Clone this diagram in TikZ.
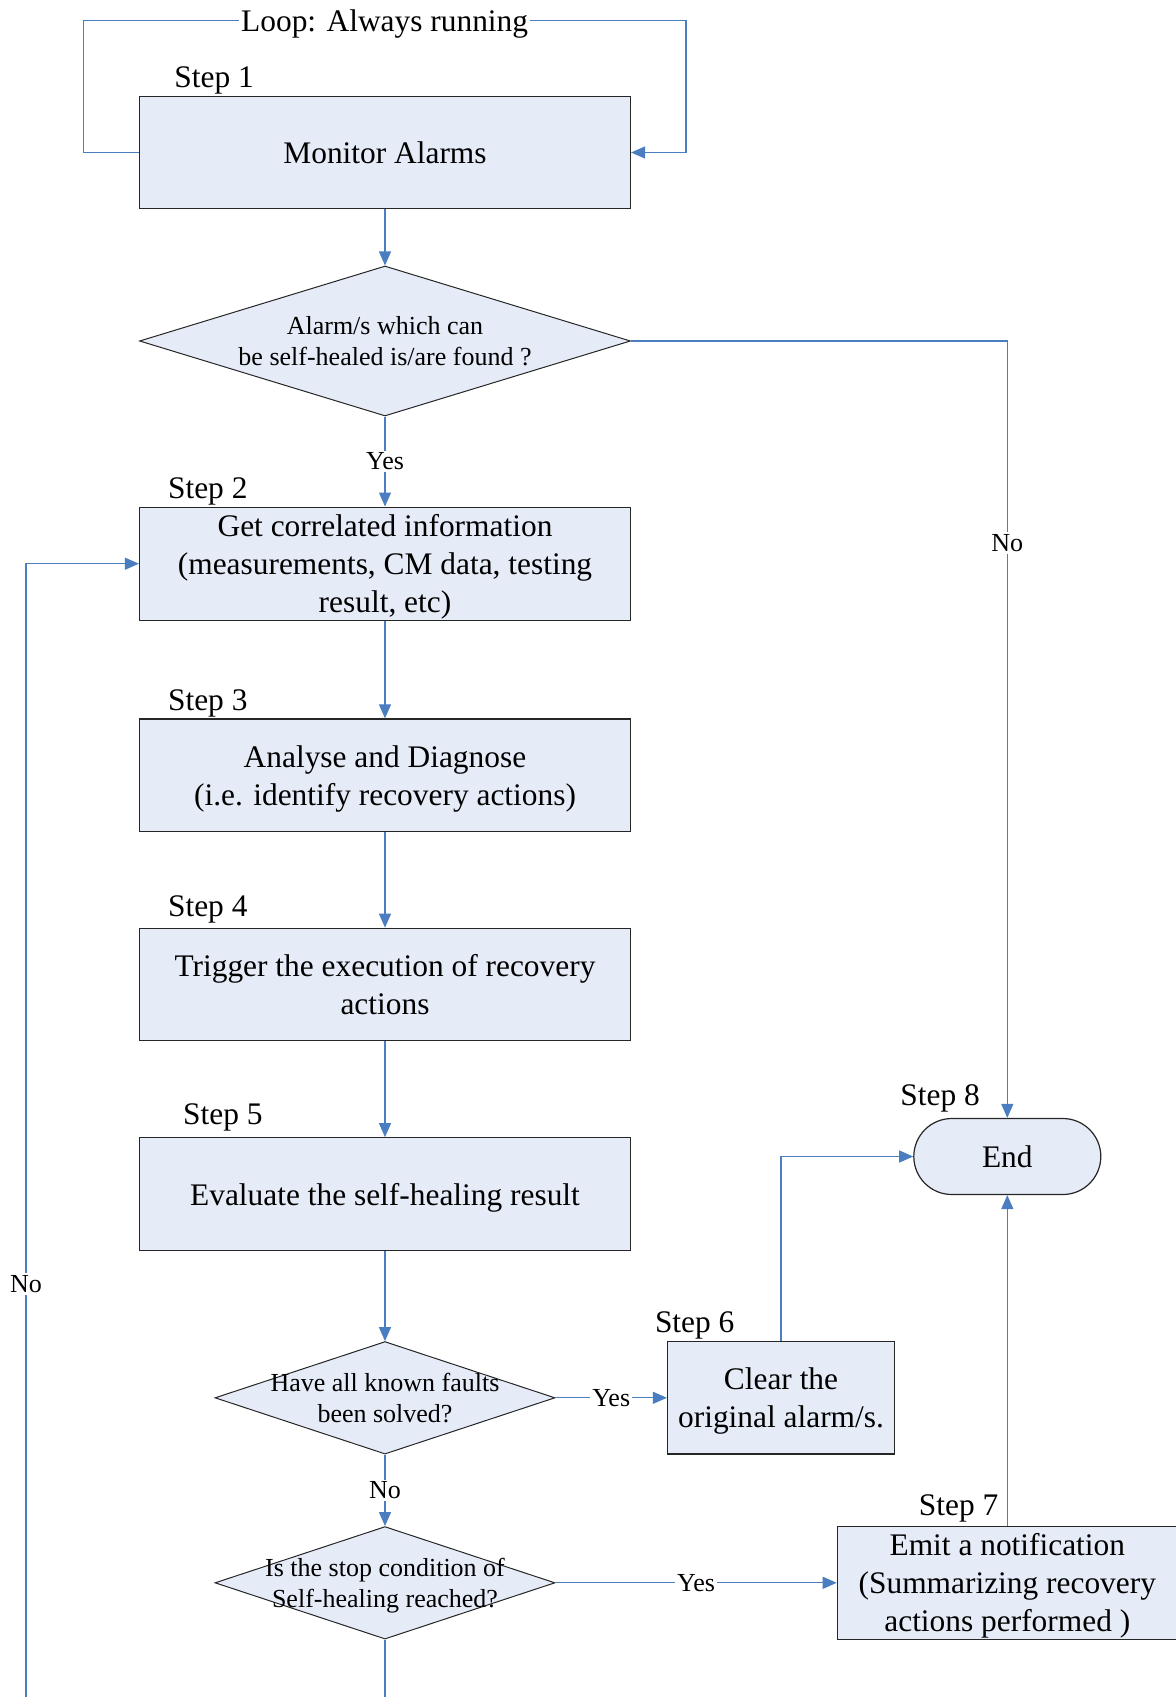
\documentclass[tikz,border=0pt]{standalone}
\usepackage{fontspec}
\setmainfont{Liberation Serif}
\usetikzlibrary{arrows.meta,shapes.geometric}
\definecolor{boxfill}{RGB}{230,236,247}
\definecolor{flowblue}{RGB}{74,126,193}
\newcommand\bigtxt{\fontsize{15.7}{19}\selectfont}
\newcommand\smalltxt{\fontsize{13}{15.7}\selectfont}
\tikzset{
  stepbox/.style={draw=black!85, line width=0.6pt, fill=boxfill, inner sep=0pt,
    align=center, font=\bigtxt, text height=14.8pt, text depth=3.8pt,
    minimum width=245.5pt, minimum height=56.25pt},
  twolines/.style={text height=33.8pt},
  threelines/.style={text height=52.8pt},
  decision/.style={draw=black!85, line width=0.5pt, fill=boxfill, shape=diamond,
    inner sep=0pt, minimum width=170pt, minimum height=56.25pt},
  endbox/.style={draw=black!85, line width=0.6pt, fill=boxfill, rounded corners=19pt,
    minimum width=93.5pt, minimum height=38pt, font=\bigtxt, text height=14.8pt, text depth=3.8pt},
  dtext/.style={align=center, font=\smalltxt, text height=28pt, text depth=3.1pt},
  steplbl/.style={anchor=base west, font=\bigtxt, inner sep=0pt},
  lbl/.style={fill=white, inner sep=1pt, font=\smalltxt},
  flow/.style={draw=flowblue, line width=0.6pt},
  arr/.style={flow, -{Triangle[length=7pt,width=6pt]}},
}
\begin{document}
\begin{tikzpicture}[x=0.5pt,y=-0.5pt]
      \useasboundingbox (0,0) rectangle (1176,1697);
      \clip (0,0) rectangle (1176,1697);
      % boxes and decisions
      \node[stepbox] (s1) at (385,152.5) {Monitor Alarms};
      \node[decision, minimum width=245.5pt, minimum height=75pt] (q1) at (385,341) {};
      \node[dtext] (q1txt) at (q1) {Alarm/s which can\\be self-healed is/are found ?};
      \node[stepbox, threelines] (s2) at (385,563.7) {Get correlated information\\(measurements, CM data, testing\\result, etc)};
      \node[stepbox, twolines] (s3) at (385,775.2) {Analyse and Diagnose\\(i.e. identify recovery actions)};
      \node[stepbox, twolines] (s4) at (385,984.5) {Trigger the execution of recovery\\actions};
      \node[stepbox] (s5) at (385,1194) {Evaluate the self-healing result};
      \node[decision] (q2) at (385,1397.8) {};
      \node[dtext] (q2txt) at (q2) {Have all known faults\\been solved?};
      \node[stepbox, twolines, minimum width=113.5pt] (s6) at (781,1397.8) {Clear the\\original alarm/s.};
      \node[decision] (q3) at (385,1582.8) {};
      \node[dtext] (q3txt) at (q3) {Is the stop condition of\\Self-healing reached?};
      \node[stepbox, threelines, minimum width=170pt] (s7) at (1007.3,1582.8) {Emit a notification\\(Summarizing recovery\\actions performed )};
      \node[endbox] (end) at (1007.3,1156.5) {End};
      % step labels
      \node[steplbl] (st1) at (174,87) {Step 1};
      \node[steplbl] (st2) at (167.7,498) {Step 2};
      \node[steplbl] (st3) at (167.7,710) {Step 3};
      \node[steplbl] (st4) at (167.7,916) {Step 4};
      \node[steplbl] (st5) at (182.8,1124) {Step 5};
      \node[steplbl] (st6) at (654.6,1332) {Step 6};
      \node[steplbl] (st7) at (918.5,1515) {Step 7};
      \node[steplbl] (st8) at (900,1105) {Step 8};
      % corner points
      \coordinate (loopl) at (83.3,20.6);
      \coordinate (loopr) at (686,20.6);
      \coordinate (back) at (26,1760);
      \begin{scope}[arr]
        \draw (s1.west) -| (loopl) -- node[lbl, font=\bigtxt, text height=14.8pt, text depth=3.8pt] (looptxt) {Loop: Always running} (loopr) |- (s1.east);
        \draw (s1) to (q1);
        \draw (q1) to node[lbl] (yes1) {Yes} (s2);
        \draw (q1.east) -| node[lbl, pos=0.63] (no1) {No} (end.north);
        \draw (s2) to (s3);
        \draw (s3) to (s4);
        \draw (s4) to (s5);
        \draw (s5) to (q2);
        \draw (q2) to node[lbl] (yes2) {Yes} (s6);
        \draw (q2) to node[lbl] (no2) {No} (q3);
        \draw (q3) to node[lbl] (yes3) {Yes} (s7);
        \draw (s6.north) |- (end.west);
        \draw (s7) to (end);
        \draw (q3.south) |- (back) |- (s2.west);
      \end{scope}
      \node[lbl] (no3) at (26,1284) {No};
    \end{tikzpicture}
\end{document}
